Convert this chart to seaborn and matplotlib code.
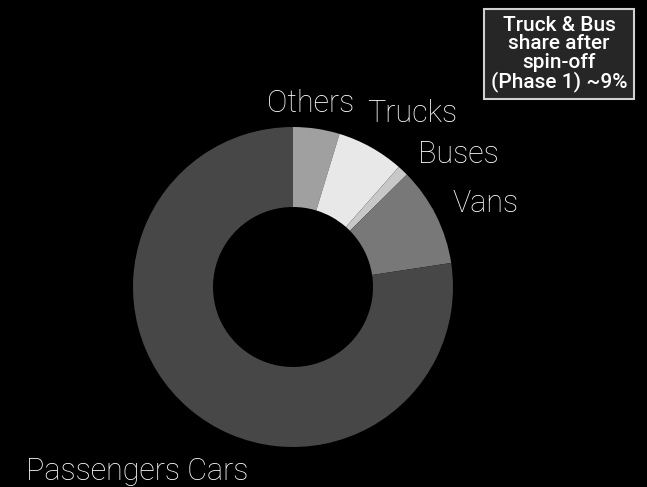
import matplotlib
matplotlib.use("Agg")
import matplotlib.pyplot as plt
import seaborn as sns

# Vehicle segment shares (%), clockwise from 12 o'clock
segments = ["Others", "Trucks", "Buses", "Vans", "Passengers Cars"]
shares = [4.7, 6.8, 1.1, 10.0, 77.4]
segment_colors = ["#a0a0a0", "#e8e8e8", "#c8c8c8", "#787878", "#474747"]

note_text = "Truck & Bus\nshare after\nspin-off\n(Phase 1) ~9%"

sns.set_theme(style="dark", rc={
    "figure.facecolor": "black",
    "axes.facecolor": "black",
    "savefig.facecolor": "black",
})
plt.rcParams["font.family"] = ["Roboto", "DejaVu Sans"]

W, H = 647, 487
fig = plt.figure(figsize=(W / 100, H / 100), dpi=100)
ax = fig.add_axes([0, 0, 1, 1])

palette = sns.color_palette(segment_colors)
ax.pie(shares, colors=palette, startangle=90, counterclock=False,
       center=(293, H - 287), radius=160,
       wedgeprops=dict(width=80, linewidth=0), frame=True)
ax.set_xlim(0, W)
ax.set_ylim(0, H)
ax.set_aspect("equal")
ax.axis("off")

# Segment labels (left edge, baseline) in pixel layout
label_pos = [(267, 112), (367, 122), (418, 163), (452, 212), (26, 480)]
for name, (x, y) in zip(segments, label_pos):
    ax.text(x, H - y, name, color="white", fontsize=22, fontweight="light",
            ha="left", va="baseline")

# Callout box
ax.text(559, H - 54, note_text, color="white", fontsize=15,
        fontweight="medium", ha="center", va="center", linespacing=0.98,
        bbox=dict(boxstyle="square,pad=0.32", facecolor="#262626",
                  edgecolor="#d0d0d0", linewidth=1.5))

fig.savefig("out.png", dpi=100, facecolor="black")
